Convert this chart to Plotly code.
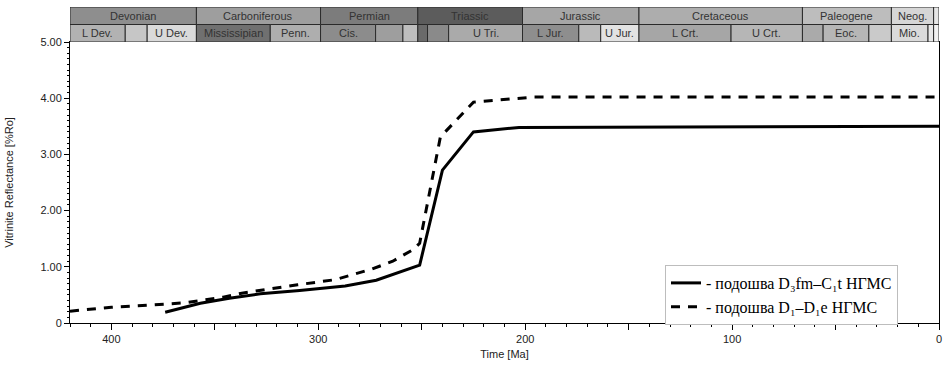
import plotly.graph_objects as go

# ---- data ----
solid_time = [374, 357, 343, 328, 309, 287, 272, 251, 240, 225, 203, 0]
solid_ro = [0.19, 0.35, 0.44, 0.52, 0.58, 0.66, 0.76, 1.03, 2.72, 3.40, 3.48, 3.50]

dashed_time = [420, 409, 400, 385, 373, 364, 355, 346, 337, 327, 310, 292, 274, 264, 254, 251, 241, 225, 212, 196, 0]
dashed_ro = [0.21, 0.25, 0.28, 0.31, 0.34, 0.36, 0.41, 0.46, 0.53, 0.59, 0.68, 0.77, 0.96, 1.10, 1.31, 1.42, 3.31, 3.93, 3.97, 4.02, 4.02]

series_names = ["- подошва D₃fm–C₁t НГМС",
                "- подошва D₁–D₁e НГМС"]

periods = ["Devonian", "Carboniferous", "Permian", "Triassic", "Jurassic",
           "Cretaceous", "Paleogene", "Neog.", ""]
period_bounds = [420, 358.9, 298.9, 251.9, 201.3, 145.0, 66.0, 23.0, 2.6, 0]
period_colors = ["#8e8e8e", "#9e9e9e", "#7c7c7c", "#5c5c5c", "#a6a6a6",
                 "#adadad", "#bdbdbd", "#d6d6d6", "#e6e6e6"]

epochs = ["L Dev.", "", "U Dev.", "Mississipian", "Penn.", "Cis.", "", "", "", "",
          "U Tri.", "L Jur.", "", "U Jur.", "L Crt.", "U Crt.", "", "Eoc.", "", "Mio.", "", ""]
epoch_bounds = [420, 393.3, 382.7, 358.9, 323.2, 298.9, 272.3, 259.1, 251.9, 247.2,
                237.0, 201.3, 174.1, 163.5, 145.0, 100.5, 66.0, 56.0, 33.9, 23.0, 5.3, 2.6, 0]
epoch_colors = ["#b2b2b2", "#c6c6c6", "#dadada", "#707070", "#aeaeae", "#8c8c8c",
                "#9e9e9e", "#bebebe", "#6a6a6a", "#8a8a8a", "#aaaaaa", "#8e8e8e",
                "#bababa", "#e2e2e2", "#a6a6a6", "#b6b6b6", "#aaaaaa", "#b6b6b6",
                "#cacaca", "#dadada", "#e8e8e8", "#f2f2f2"]

y_ticks = [0, 1, 2, 3, 4, 5]
y_ticktext = ["0", "1.00", "2.00", "3.00", "4.00", "5.00"]
x_ticks = [400, 350, 300, 250, 200, 150, 100, 50, 0]
x_ticktext = ["400", " ", "300", " ", "200", " ", "100", " ", "0"]

# ---- figure ----
W, H = 945, 367
mt, mb = 7, 44
plot_h = H - mt - mb
split = 281 / plot_h

fig = go.Figure()
fig.add_trace(go.Scatter(x=solid_time, y=solid_ro, mode="lines", name=series_names[0],
                         line=dict(color="black", width=3), xaxis="x", yaxis="y"))
fig.add_trace(go.Scatter(x=dashed_time, y=dashed_ro, mode="lines", name=series_names[1],
                         line=dict(color="black", width=3, dash="9px,8px"), xaxis="x", yaxis="y"))

shapes = []
annotations = []
text_font = dict(family="Liberation Sans, Arial", size=11, color="#333333")
for i, name in enumerate(periods):
    x0, x1 = period_bounds[i], period_bounds[i + 1]
    shapes.append(dict(type="rect", xref="x2", yref="y2", x0=x0, x1=x1, y0=1, y1=2,
                       fillcolor=period_colors[i], line=dict(color="#2a2a2a", width=1), layer="below"))
    if name:
        annotations.append(dict(xref="x2", yref="y2", x=(x0 + x1) / 2, y=1.5, text=name,
                                showarrow=False, font=text_font))
for i, name in enumerate(epochs):
    x0, x1 = epoch_bounds[i], epoch_bounds[i + 1]
    shapes.append(dict(type="rect", xref="x2", yref="y2", x0=x0, x1=x1, y0=0, y1=1,
                       fillcolor=epoch_colors[i], line=dict(color="#2a2a2a", width=1), layer="below"))
    if name:
        annotations.append(dict(xref="x2", yref="y2", x=(x0 + x1) / 2, y=0.5, text=name,
                                showarrow=False, font=text_font))

axis_font = dict(family="Liberation Sans, Arial", size=11, color="#222222")

fig.update_layout(
    width=W, height=H,
    margin=dict(l=70, r=6, t=mt, b=mb),
    paper_bgcolor="white", plot_bgcolor="white",
    showlegend=True,
    legend=dict(x=(665 - 70) / 869, y=(323 - 265) / plot_h, xanchor="left", yanchor="top",
                bgcolor="white", bordercolor="#bdbdbd", borderwidth=1,
                font=dict(family="Liberation Serif, Times New Roman", size=16, color="black"),
                itemwidth=30, tracegroupgap=0),
    xaxis=dict(domain=[0, 1], anchor="y", range=[420, 0], tickvals=x_ticks, ticktext=x_ticktext,
               automargin=False,
               ticks="outside", ticklen=6, tickcolor="black", showline=True, linecolor="black",
               linewidth=1, mirror=True, showgrid=False, zeroline=False, tickfont=axis_font,
               minor=dict(dtick=10, ticks="outside", ticklen=3, tickcolor="black", showgrid=False),
               title=dict(text="Time [Ma]", font=axis_font, standoff=6)),
    yaxis=dict(domain=[0, split], anchor="x", range=[0, 5], tickvals=y_ticks, ticktext=y_ticktext,
               automargin=False,
               ticks="outside", ticklen=5, tickcolor="black", showline=True, linecolor="black",
               linewidth=1, mirror=True, showgrid=False, zeroline=False, tickfont=axis_font,
               minor=dict(dtick=0.1, ticks="outside", ticklen=2, tickcolor="black", showgrid=False),
               title=dict(text="Vitrinite Reflectance [%Ro]", font=axis_font, standoff=24)),
    xaxis2=dict(domain=[0, 1], anchor="y2", range=[420, 0], visible=False, matches="x"),
    yaxis2=dict(domain=[split, 1], anchor="x2", range=[0, 2], visible=False),
    shapes=shapes, annotations=annotations,
)

fig.write_html("out.html", config={"displayModeBar": False},
               post_script="document.body.style.margin='0';")
